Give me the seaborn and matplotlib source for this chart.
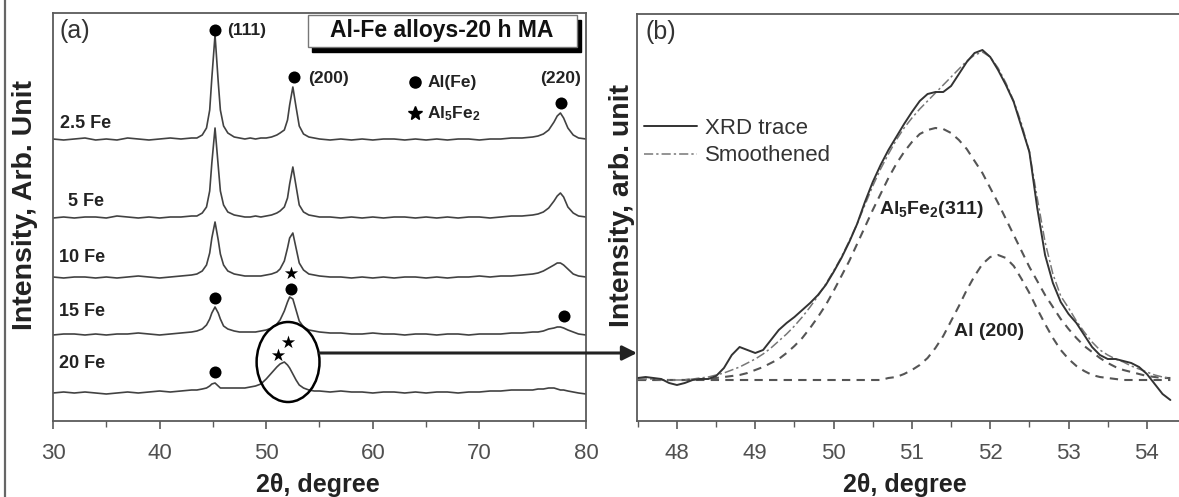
import numpy as np
import pandas as pd
import matplotlib
matplotlib.use("Agg")
import matplotlib.pyplot as plt
from matplotlib.patches import Ellipse, Rectangle, ConnectionPatch
from matplotlib.lines import Line2D
from matplotlib.ticker import MultipleLocator
import seaborn as sns

# ---------------- Panel (a): XRD patterns of Al-Fe alloys after 20 h MA ----------------
two_theta_a = [30, 31, 32, 33, 34, 35, 36, 37, 38, 39,
               40, 41, 42, 43, 43.5, 44, 44.4, 44.7, 44.9, 45.2,
               45.5, 45.7, 46, 46.4, 47, 47.5, 48, 48.5, 49, 49.5,
               50, 50.5, 51, 51.3, 51.7, 52.0, 52.2, 52.5, 52.8, 53.1,
               53.5, 54, 54.5, 55, 56, 57, 58, 59, 60, 61,
               62, 63, 64, 65, 66, 67, 68, 69, 70, 71,
               72, 73, 74, 75, 75.5, 76, 76.5, 77, 77.3, 77.6,
               77.9, 78.3, 78.8, 79.3, 80]

sample_names = ["2.5 Fe", "5 Fe", "10 Fe", "15 Fe", "20 Fe"]
stack_offsets = [281, 203, 143, 86, 28]

intensity_2p5fe = [1, 0, 1, 2, 0, 1, 0, 2, 1, 0,
                   1, 2, 1, 2, 2, 5, 12, 30, 62, 105,
                   58, 30, 14, 7, 3, 2, 1, 2, 1, 2,
                   2, 3, 5, 7, 10, 20, 35, 53, 33, 14,
                   6, 3, 2, 1, 0, 1, 0, 1, 0, 1,
                   1, 0, 1, 0, 1, 0, 1, 1, 0, 1,
                   1, 2, 2, 3, 4, 6, 10, 18, 24, 27,
                   22, 12, 5, 2, 1]
intensity_5fe = [0, 1, 0, 1, 1, 0, 2, 1, 0, 1,
                 0, 1, 1, 2, 2, 5, 11, 27, 55, 90,
                 52, 27, 13, 6, 3, 2, 1, 1, 2, 1,
                 2, 3, 5, 7, 11, 20, 34, 51, 32, 13,
                 6, 3, 2, 1, 1, 0, 1, 0, 1, 0,
                 1, 1, 0, 1, 0, 1, 0, 1, 1, 0,
                 1, 2, 2, 3, 4, 6, 10, 17, 22, 25,
                 21, 11, 5, 2, 1]
intensity_10fe = [1, 0, 1, 1, 0, 1, 0, 1, 2, 1,
                  0, 1, 2, 3, 4, 7, 13, 25, 40, 56,
                  38, 24, 13, 7, 4, 3, 2, 2, 2, 2,
                  3, 4, 6, 9, 17, 30, 40, 45, 30, 15,
                  8, 4, 3, 2, 1, 1, 0, 1, 0, 1,
                  0, 1, 1, 0, 1, 0, 1, 1, 2, 1,
                  2, 2, 3, 4, 5, 7, 10, 13, 15, 15,
                  13, 9, 4, 2, 1]
intensity_15fe = [0, 1, 1, 0, 1, 0, 1, 1, 2, 1,
                  0, 1, 2, 3, 4, 6, 10, 16, 22, 28,
                  22, 16, 9, 6, 4, 3, 3, 3, 3, 4,
                  5, 7, 11, 15, 24, 33, 38, 36, 25, 14,
                  8, 5, 4, 3, 2, 2, 1, 1, 2, 1,
                  1, 0, 1, 1, 0, 1, 1, 0, 1, 1,
                  1, 2, 2, 3, 3, 4, 6, 7, 8, 8,
                  7, 5, 3, 1, 0]
intensity_20fe = [0, 1, 0, 1, 0, -1, 0, 1, 0, 1,
                  2, 1, 2, 3, 3, 4, 5, 7, 9, 10,
                  7, 5, 5, 5, 5, 5, 5, 6, 7, 9,
                  14, 20, 26, 29, 31, 28, 25, 19, 13, 8,
                  5, 3, 2, 2, 1, 2, 1, 1, 0, 1,
                  1, 0, 1, 0, 1, 1, 0, 1, 1, 2,
                  2, 3, 3, 3, 4, 4, 5, 5, 4, 3,
                  3, 2, 1, 0, -1]

# phase markers (2theta, stacked intensity)
alfe_marks_x = [45.2, 52.65, 77.7, 45.2, 52.35, 77.9, 45.2]
alfe_marks_y = [391, 344, 318, 123, 132, 105, 49]
al5fe2_marks_x = [52.35, 51.1, 52.0]
al5fe2_marks_y = [148, 66, 79]
peak_labels = ["(111)", "(200)", "(220)"]

# ---------------- Panel (b): deconvolution of the 20 Fe peak ----------------
two_theta_b = [47.5, 47.6, 47.7, 47.8, 47.9, 48.0, 48.1, 48.2, 48.3, 48.4,
               48.5, 48.6, 48.7, 48.8, 48.9, 49.0, 49.1, 49.2, 49.3, 49.4,
               49.5, 49.6, 49.7, 49.8, 49.9, 50.0, 50.1, 50.2, 50.3, 50.4,
               50.5, 50.6, 50.7, 50.8, 50.9, 51.0, 51.1, 51.2, 51.3, 51.4,
               51.5, 51.6, 51.7, 51.8, 51.9, 52.0, 52.1, 52.2, 52.3, 52.4,
               52.5, 52.6, 52.7, 52.8, 52.9, 53.0, 53.1, 53.2, 53.3, 53.4,
               53.5, 53.6, 53.7, 53.8, 53.9, 54.0, 54.1, 54.2, 54.3]
xrd_trace = [2, 3, 2, 1, -3, -5, -3, 0, 1, 1,
             4, 12, 25, 33, 30, 27, 30, 40, 50, 57,
             63, 70, 77, 85, 95, 108, 122, 138, 156, 178,
             198, 215, 230, 243, 256, 268, 279, 286, 288, 288,
             294, 306, 318, 327, 330, 323, 310, 295, 278, 253,
             228, 172, 125, 97, 78, 66, 57, 45, 33, 25,
             21, 21, 19, 17, 13, 6, -4, -14, -20]
smoothened = [1, 1, 1, 0, 0, 0, 0, 1, 2, 3,
              5, 7, 10, 13, 17, 21, 26, 32, 39, 46,
              54, 63, 73, 84, 96, 109, 123, 139, 156, 175,
              194, 211, 226, 240, 252, 262, 271, 279, 287, 295,
              303, 311, 319, 325, 328, 323, 312, 297, 279, 256,
              228, 182, 138, 106, 84, 72, 59, 48, 38, 30,
              25, 21, 18, 14, 11, 8, 5, 3, 2]
al5fe2_311 = [0, 0, 0, 0, 0, 0, 0, 1, 1, 1,
              2, 3, 4, 5, 7, 10, 13, 17, 21, 27,
              34, 42, 52, 63, 75, 89, 104, 119, 136, 153,
              170, 186, 202, 216, 228, 238, 246, 250, 252, 251,
              247, 240, 231, 219, 207, 192, 177, 161, 145, 129,
              113, 99, 85, 73, 61, 51, 42, 34, 28, 22,
              17, 13, 10, 8, 6, 4, 3, 2, 2]
al_200 = [0, 0, 0, 0, 0, 0, 0, 0, 0, 0,
          0, 0, 0, 0, 0, 0, 0, 0, 0, 0,
          0, 0, 0, 0, 0, 0, 0, 0, 0, 0,
          0, 0, 2, 3, 6, 10, 15, 22, 32, 44,
          59, 74, 90, 104, 116, 123, 125, 122, 114, 101,
          87, 71, 56, 42, 30, 21, 14, 9, 5, 3,
          2, 1, 0, 0, 0, 0, 0, 0, 0]

# ---------------- styling ----------------
sns.set_theme(style="white")
plt.rcParams["font.family"] = ["Liberation Sans", "DejaVu Sans"]
plt.rcParams["mathtext.fontset"] = "custom"
plt.rcParams["mathtext.rm"] = "Liberation Sans:bold"
plt.rcParams["mathtext.bf"] = "Liberation Sans:bold"
plt.rcParams["mathtext.it"] = "Liberation Sans:bold"

W, H = 1179, 497
fig = plt.figure(figsize=(W / 100, H / 100), dpi=100)
fig.patch.set_facecolor("white")
axL = fig.add_axes([53 / W, 76 / H, 533 / W, 408 / H])
axR = fig.add_axes([637 / W, 76 / H, 542 / W, 407 / H])

line_col = "#424242"
spine_col = "#5a5a5a"
tick_col = "#505050"

# ---- panel (a) curves
series_a = [intensity_2p5fe, intensity_5fe, intensity_10fe, intensity_15fe, intensity_20fe]
for name, off, vals in zip(sample_names, stack_offsets, series_a):
    d = pd.DataFrame({"two_theta": two_theta_a, "I": np.array(vals) + off})
    sns.lineplot(data=d, x="two_theta", y="I", ax=axL, color=line_col, lw=1.2,
                 estimator=None, sort=False)

sns.scatterplot(x=alfe_marks_x, y=alfe_marks_y, ax=axL, marker="o", s=75,
                color="black", edgecolor="black", linewidth=0, zorder=5)
sns.scatterplot(x=al5fe2_marks_x, y=al5fe2_marks_y, ax=axL, marker="*", s=100,
                color="black", edgecolor="black", linewidth=0, zorder=5)

axL.set_xlim(30, 80)
axL.set_ylim(0, 408)
axL.set_yticks([])
axL.xaxis.set_major_locator(MultipleLocator(10))
axL.xaxis.set_minor_locator(MultipleLocator(5))

# sample labels
label_pos_y = [297, 219, 164, 109, 58]
label_pos_x = [30.66, 31.4, 30.56, 30.56, 30.56]
for name, lx, ly in zip(sample_names, label_pos_x, label_pos_y):
    axL.text(lx, ly, name, fontsize=13, fontweight="bold", color="#222222",
             ha="left", va="center")

axL.text(30.6, 390, "(a)", fontsize=18, color="#333333", ha="left", va="center")
axL.text(46.3, 391, peak_labels[0], fontsize=12.5, fontweight="bold", color="#222222",
         ha="left", va="center")
axL.text(53.9, 342, peak_labels[1], fontsize=12.5, fontweight="bold", color="#222222",
         ha="left", va="center")
axL.text(77.6, 343, peak_labels[2], fontsize=12.5, fontweight="bold", color="#222222",
         ha="center", va="center")

# phase key
axL.plot([64.0], [339], marker="o", ms=8, color="black", ls="none")
axL.plot([64.0], [308], marker="*", ms=10, color="black", ls="none")
axL.text(65.1, 338, "Al(Fe)", fontsize=12.5, fontweight="bold", color="#222222",
         ha="left", va="center")
axL.text(65.1, 307, r"Al$_\mathrm{5}$Fe$_\mathrm{2}$", fontsize=12.5, fontweight="bold",
         color="#222222", ha="left", va="center")

# title box with shadow
axL.add_patch(Rectangle((54.3, 369), 25.2, 32, facecolor="black", edgecolor="black",
                        zorder=6))
axL.add_patch(Rectangle((53.92, 374), 25.24, 32, facecolor="white", edgecolor="#777777",
                        lw=1.0, zorder=7))
axL.text(66.5, 390, "Al-Fe alloys-20 h MA", fontsize=16.5, fontweight="bold",
         color="#111111", ha="center", va="center", zorder=8)

# circled region
axL.add_patch(Ellipse((52.05, 59), 5.9, 80, facecolor="none", edgecolor="black",
                      lw=1.8, zorder=6))

axL.set_xlabel("2θ, degree", fontsize=18, fontweight="bold", color="#222222")
axL.xaxis.label.set_va("center")
axL.xaxis.set_label_coords(0.497, -0.157)
axL.set_ylabel("Intensity, Arb. Unit", fontsize=20.5, fontweight="bold", color="#222222")
axL.yaxis.label.set_va("center")
axL.yaxis.set_label_coords(-0.0525, 0.53)

# ---- panel (b) curves
df_b = pd.DataFrame({"two_theta": two_theta_b, "xrd": xrd_trace, "smooth": smoothened,
                     "al5fe2": al5fe2_311, "al200": al_200})
sns.lineplot(data=df_b, x="two_theta", y="al5fe2", ax=axR, color="#555555", lw=1.5,
             estimator=None, sort=False).lines[-1].set_dashes([4, 3])
sns.lineplot(data=df_b, x="two_theta", y="al200", ax=axR, color="#555555", lw=1.5,
             estimator=None, sort=False).lines[-1].set_dashes([4, 3])
sns.lineplot(data=df_b, x="two_theta", y="smooth", ax=axR, color="#777777", lw=1.1,
             estimator=None, sort=False, label="Smoothened").lines[-1].set_dashes([6, 2, 1.5, 2])
sns.lineplot(data=df_b, x="two_theta", y="xrd", ax=axR, color="#333333", lw=1.4,
             estimator=None, sort=False, label="XRD trace")

h_xrd = axR.lines[-1]
h_sm = axR.lines[-2]
axR.legend(handles=[h_xrd, h_sm], labels=["XRD trace", "Smoothened"], loc="upper left",
           bbox_to_anchor=(0.012, 0.745), frameon=False, fontsize=16, handlelength=2.4,
           handletextpad=0.35, labelspacing=0.3, borderpad=0, borderaxespad=0,
           labelcolor="#333333")

axR.set_xlim(47.49, 54.41)
axR.set_ylim(-41, 366)
axR.set_yticks([])
axR.xaxis.set_major_locator(MultipleLocator(1))
axR.xaxis.set_minor_locator(MultipleLocator(0.5))

axR.text(47.6, 348, "(b)", fontsize=18, color="#333333", ha="left", va="center")
axR.text(50.58, 170, r"Al$_\mathrm{5}$Fe$_\mathrm{2}$(311)", fontsize=14, fontweight="bold",
         color="#222222", ha="left", va="center")
axR.text(51.54, 48, "Al (200)", fontsize=14, fontweight="bold", color="#222222",
         ha="left", va="center")

axR.set_xlabel("2θ, degree", fontsize=18, fontweight="bold", color="#222222")
axR.xaxis.label.set_va("center")
axR.xaxis.set_label_coords(0.494, -0.157)
axR.set_ylabel("Intensity, arb. unit", fontsize=20.5, fontweight="bold", color="#222222")
axR.yaxis.label.set_va("center")
axR.yaxis.set_label_coords(-0.0277, 0.53)

for ax in (axL, axR):
    for s in ax.spines.values():
        s.set_color(spine_col)
        s.set_linewidth(1.3)
        s.set_visible(True)
    ax.tick_params(axis="x", which="major", direction="out", length=6, width=1.2,
                   color=spine_col, labelsize=16, labelcolor=tick_col, pad=10,
                   bottom=True)
    ax.tick_params(axis="x", which="minor", direction="out", length=4, width=1.0,
                   color=spine_col, bottom=True)
    ax.set_facecolor("white")
axR.spines["right"].set_visible(False)

# arrow from circled peak to the zoomed panel
arrow = ConnectionPatch(xyA=(55.02, 68), coordsA="data", axesA=axL,
                        xyB=(47.49, 27), coordsB="data", axesB=axR,
                        arrowstyle="-|>", mutation_scale=22, lw=2.2, color="#222222",
                        shrinkA=0, shrinkB=0)
fig.add_artist(arrow)

# outer frame line on the left
fig.add_artist(Line2D([5 / W, 5 / W], [0, 1], color="#666666", lw=1.6))

fig.savefig("out.png", dpi=100, facecolor="white")
